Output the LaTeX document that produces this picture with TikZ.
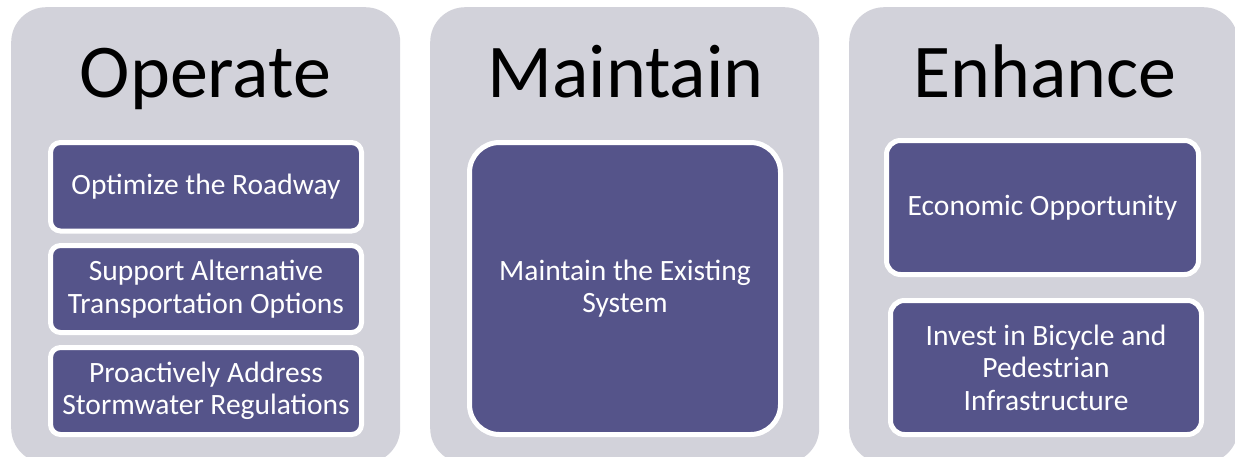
\documentclass[tikz,border=0pt]{standalone}
\usepackage{fontspec}
\setmainfont{Carlito}
\definecolor{panelgray}{HTML}{D2D2DA}
\definecolor{boxpurple}{HTML}{55548A}
\begin{document}
\begin{tikzpicture}[x=1pt,y=-1pt,
  panelbox/.style={fill=panelgray, draw=none, rounded corners=35pt, minimum width=389pt, minimum height=456pt, inner sep=0pt, anchor=north west},
  paneltitle/.style={font=\fontsize{76}{90}\selectfont, text=black, anchor=base, inner sep=0pt},
  itembox/.style={fill=boxpurple, draw=white, line width=5pt, text=white, align=center, font=\fontsize{29.5}{32.5}\selectfont, inner sep=0pt, rounded corners=10pt},
]
\useasboundingbox (0,0) rectangle (1235,456);
\clip (0,0) rectangle (1235,456);
\fill[white] (0,0) rectangle (1235,456);

% panels
\node[panelbox] (pop) at (11,7) {};
\node[panelbox] (pma) at (430,7) {};
\node[panelbox] (pen) at (849,7) {};

% titles
\node[paneltitle] (top) at (205.5,97) {Operate};
\node[paneltitle] (tma) at (625.5,97) {Maintain};
\node[paneltitle] (ten) at (1045,97) {Enhance};

% Operate items
\node[itembox, minimum width=311pt, minimum height=88.5pt] (o1) at (206,186.75) {Optimize the Roadway};
\node[itembox, minimum width=311pt, minimum height=87pt] (o2) at (206,289) {Support Alternative\\Transportation Options};
\node[itembox, minimum width=311pt, minimum height=87pt] (o3) at (206,391) {Proactively Address\\Stormwater Regulations};

% Maintain item
\node[itembox, rounded corners=30pt, minimum width=311pt, minimum height=292pt] (m1) at (625,288.5) {Maintain the Existing\\System};

% Enhance items
\node[itembox, rounded corners=14pt, minimum width=312pt, minimum height=134pt] (e1) at (1042.5,207.5) {Economic Opportunity};
\node[itembox, rounded corners=14pt, minimum width=311pt, minimum height=134pt] (e2) at (1046,367.5) {Invest in Bicycle and\\Pedestrian\\Infrastructure};
\end{tikzpicture}
\end{document}
